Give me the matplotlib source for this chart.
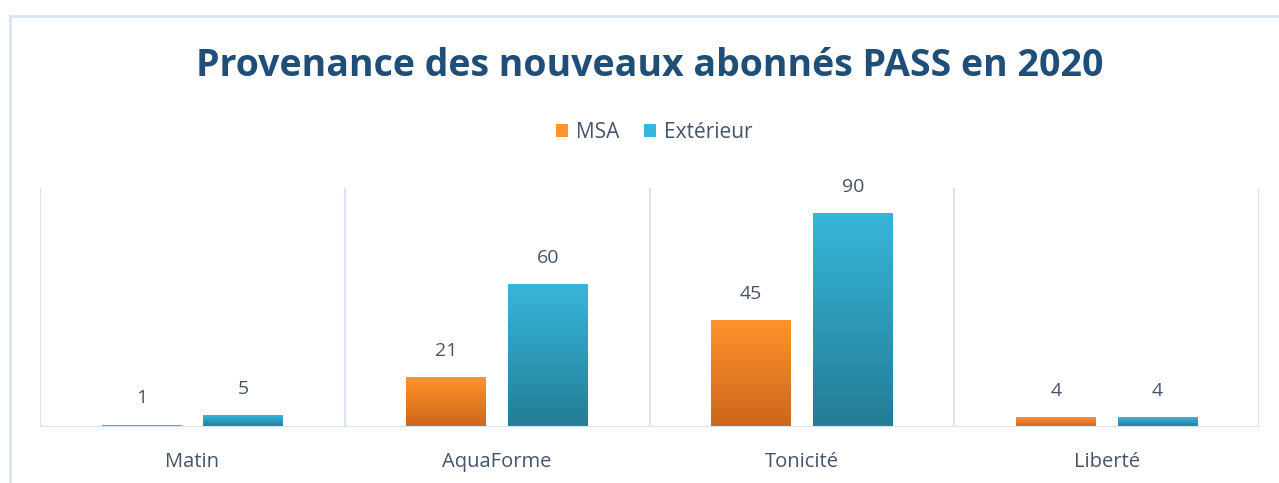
import numpy as np
import matplotlib.pyplot as plt
from matplotlib.lines import Line2D
from matplotlib.colors import LinearSegmentedColormap

categories = ['Matin', 'AquaForme', 'Tonicité', 'Liberté']
msa = [1, 21, 45, 4]
exterieur = [5, 60, 90, 4]
series_names = ['MSA', 'Extérieur']

plt.rcParams['font.family'] = ['Open Sans', 'DejaVu Sans']
txt_col = '#44546A'
grid_col = '#D9E4F2'

W, H = 1279, 483
fig = plt.figure(figsize=(W/100, H/100), dpi=100)
ax = fig.add_axes([40/W, (H-427)/H, (1259-40)/W, (427-188)/H])

x = np.arange(len(categories))
bw = 0.262
off = 0.167
grads = [('#FF932C', '#CC661C'), ('#37B6DA', '#237D95')]

for vals, dx, (c_top, c_bot), name in zip([msa, exterieur], [-off, off], grads, series_names):
    bars = ax.bar(x + dx, vals, bw, color=c_top, label=name, zorder=2,
                  edgecolor='none')
    cmap = LinearSegmentedColormap.from_list('g', [c_bot, c_top])
    for b, v in zip(bars, vals):
        x0 = b.get_x()
        im = ax.imshow(np.linspace(0, 1, 100).reshape(-1, 1), cmap=cmap,
                       origin='lower', aspect='auto', zorder=3,
                       extent=[x0, x0 + b.get_width(), 0, v])
        im.set_clip_path(b)
        ax.annotate(str(v), (b.get_x() + b.get_width()/2, v),
                    xytext=(0, 19), textcoords='offset points',
                    ha='center', va='center', fontsize=14, color=txt_col)

ax.set_xlim(-0.5, len(categories) - 0.5)
ax.set_ylim(0, 100.5)
for s in ax.spines.values():
    s.set_visible(False)
for p in np.arange(len(categories) + 1) - 0.5:
    ax.axvline(p, color=grid_col, lw=1.5, zorder=1)
ax.axhline(0, color=grid_col, lw=1.5, zorder=4)
ax.set_yticks([])
ax.set_xticks(x)
ax.set_xticklabels(categories, fontsize=14.5, color=txt_col)
ax.tick_params(axis='x', length=0, pad=18)

fig.text(650/W, 1 - 66/H, 'Provenance des nouveaux abonnés PASS en 2020',
         ha='center', va='center', fontsize=27, fontweight='bold', color='#1F4E79')

fig.legend(loc='center', bbox_to_anchor=(654/W, 1 - 132/H), ncol=2, frameon=False,
           fontsize=15, labelcolor=txt_col, handlelength=0.6, handleheight=0.6,
           handletextpad=0.35, columnspacing=1.2)

# bordure du cadre
fig.add_artist(Line2D([10/W, 10/W], [0, 1 - 16/H], color=grid_col, lw=2))
fig.add_artist(Line2D([10/W, 1], [1 - 16/H, 1 - 16/H], color=grid_col, lw=2))

plt.savefig('out.png', dpi=100)
